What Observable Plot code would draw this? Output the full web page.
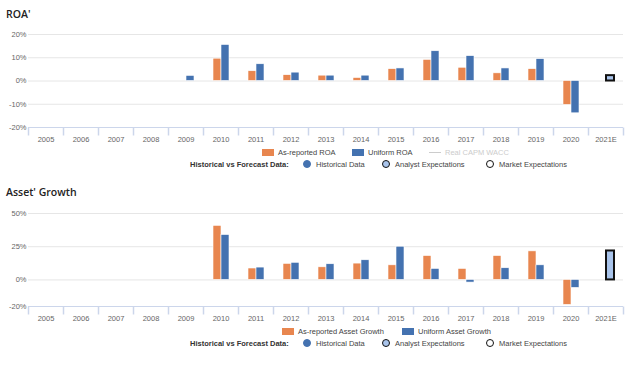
<!DOCTYPE html>
<html><head><meta charset="utf-8">
<script src="https://cdn.jsdelivr.net/npm/d3@7"></script>
<script src="https://cdn.jsdelivr.net/npm/@observablehq/plot@0.6"></script>
<style>
body{margin:0;background:#fff;}
#wrap{position:relative;width:628px;height:365px;overflow:hidden;font-family:"Liberation Sans",Arial,sans-serif;}
.title{position:absolute;left:6px;font-family:"Open Sans",sans-serif;font-weight:600;font-size:10.5px;color:#222;line-height:14px;}
.chart{position:absolute;left:0;}
.leg{position:absolute;font-size:7.5px;color:#444;white-space:nowrap;line-height:10px;}
.leg b{color:#333;}
.sw{display:inline-block;width:12px;height:7px;vertical-align:-1px;margin-right:4px;}
.ln{display:inline-block;width:12px;height:1px;background:#ccc;vertical-align:2px;margin-right:4px;}
.ci{display:inline-block;width:6px;height:6px;border-radius:50%;vertical-align:-1px;margin-right:5px;}
</style></head>
<body><div id="wrap"></div>
<script>
const years = ["2005","2006","2007","2008","2009","2010","2011","2012","2013","2014","2015","2016","2017","2018","2019","2020","2021E"];
const seriesNames = ["As-reported","Uniform"];
const seriesColors = ["#e8864f","#4472b0"];

const roaReported = [null,null,null,null,null,9.6,4.2,2.5,2.3,1.3,5.1,9.1,5.7,3.3,5.1,-10.3,null];
const roaUniform  = [null,null,null,null,2.2,15.5,7.2,3.6,2.3,2.3,5.4,12.8,10.7,5.4,9.4,-13.9,null];
const roaForecastYears = ["2021E"];
const roaForecast = [2.3];
const roaTicks = [-20,-10,0,10,20];

const growthReported = [null,null,null,null,null,40.7,8.6,12.1,9.5,12.3,11.0,18.0,8.3,18.0,21.5,-18.8,null];
const growthUniform  = [null,null,null,null,null,33.8,9.3,12.9,11.8,14.8,25.0,8.3,-2.0,8.8,11.0,-6.0,null];
const growthForecastYears = ["2021E"];
const growthForecast = [21.8];
const growthTicks = [-20,0,25,50];

const tickSymbol = {draw(ctx){ ctx.moveTo(0,0); ctx.lineTo(0,8); }};

function makeChart(reported, uniform, fYears, fVals, ticks, height, mt, mb) {
  const rows = [];
  years.forEach((yr,i) => {
    if (reported[i] != null) rows.push({year: yr, series: "As-reported", value: reported[i]});
    if (uniform[i] != null) rows.push({year: yr, series: "Uniform", value: uniform[i]});
  });
  const fRows = fYears.map((yr,i) => ({year: yr, series: "Uniform", value: fVals[i]}));
  const lo = ticks[0], hi = ticks[ticks.length-1];
  return Plot.plot({
    width: 628, height, marginLeft: 26, marginRight: 3, marginTop: mt, marginBottom: mb,
    style: {fontFamily: "'Liberation Sans', Arial, sans-serif", background: "transparent"},
    fx: {domain: years, padding: 0, label: null},
    x: {domain: seriesNames, paddingInner: 0, paddingOuter: 1.12, axis: null},
    y: {domain: [lo, hi], label: null},
    color: {domain: seriesNames, range: seriesColors},
    marks: [
      Plot.gridY(ticks, {stroke: "#e6e6e6", strokeOpacity: 1}),
      Plot.axisY({ticks, tickSize: 0, tickPadding: 2, tickFormat: d => d + "%", fontSize: 7.5, fill: "#666", label: null}),
      Plot.ruleY([lo], {stroke: "#ccd6eb"}),
      Plot.dot(years, {fx: d => d, frameAnchor: "bottom-left", symbol: tickSymbol, stroke: "#ccd6eb", fill: "none"}),
      Plot.dot(years.slice(-1), {fx: d => d, frameAnchor: "bottom-right", symbol: tickSymbol, stroke: "#ccd6eb", fill: "none"}),
      Plot.axisFx({anchor: "bottom", tickSize: 0, tickPadding: 9, fontSize: 7.5, fill: "#666", label: null}),
      Plot.barY(rows, {fx: "year", x: "series", y: "value", fill: "series", stroke: "#fff", strokeWidth: 0.6}),
      Plot.barY(fRows, {fx: "year", x: "series", y: "value", fill: "#a9c4eb", stroke: "#111", strokeWidth: 2})
    ]
  });
}

const wrap = document.getElementById("wrap");
function add(html, style) {
  const d = document.createElement("div");
  d.innerHTML = html;
  Object.assign(d.style, style);
  wrap.appendChild(d);
  return d;
}
const t1 = add("ROA'", {top: "7px"}); t1.className = "title";
const c1 = makeChart(roaReported, roaUniform, roaForecastYears, roaForecast, roaTicks, 122, 10, 19);
c1.classList.add("chart"); c1.style.top = "24px"; wrap.appendChild(c1);

const t2 = add("Asset' Growth", {top: "185px"}); t2.className = "title";
const c2 = makeChart(growthReported, growthUniform, growthForecastYears, growthForecast, growthTicks, 125, 13, 19);
c2.classList.add("chart"); c2.style.top = "200px"; wrap.appendChild(c2);

function legendRows(top1, top2, items) {
  items.forEach(it => { const d = add(it.html, {left: it.x + "px", top: top1 + "px"}); d.className = "leg"; });
  const row2 = [
    {x: 190, html: "<b>Historical vs Forecast Data:</b>"},
    {x: 303, html: '<span class="ci" style="background:#4472b0;border:1.5px solid #4472b0"></span>Historical Data'},
    {x: 382, html: '<span class="ci" style="background:#a9c4eb;border:1.5px solid #111"></span>Analyst Expectations'},
    {x: 486, html: '<span class="ci" style="background:#fff;border:1.5px solid #111"></span>Market Expectations'}
  ];
  row2.forEach(it => { const d = add(it.html, {left: it.x + "px", top: top2 + "px"}); d.className = "leg"; });
}
legendRows(148, 160, [
  {x: 262, html: '<span class="sw" style="background:#e8864f"></span>As-reported ROA'},
  {x: 352, html: '<span class="sw" style="background:#4472b0"></span>Uniform ROA'},
  {x: 429, html: '<span class="ln"></span><span style="color:#ccc">Real CAPM WACC</span>'}
]);
legendRows(327, 339, [
  {x: 282, html: '<span class="sw" style="background:#e8864f"></span>As-reported Asset Growth'},
  {x: 402, html: '<span class="sw" style="background:#4472b0"></span>Uniform Asset Growth'}
]);
</script></body></html>
